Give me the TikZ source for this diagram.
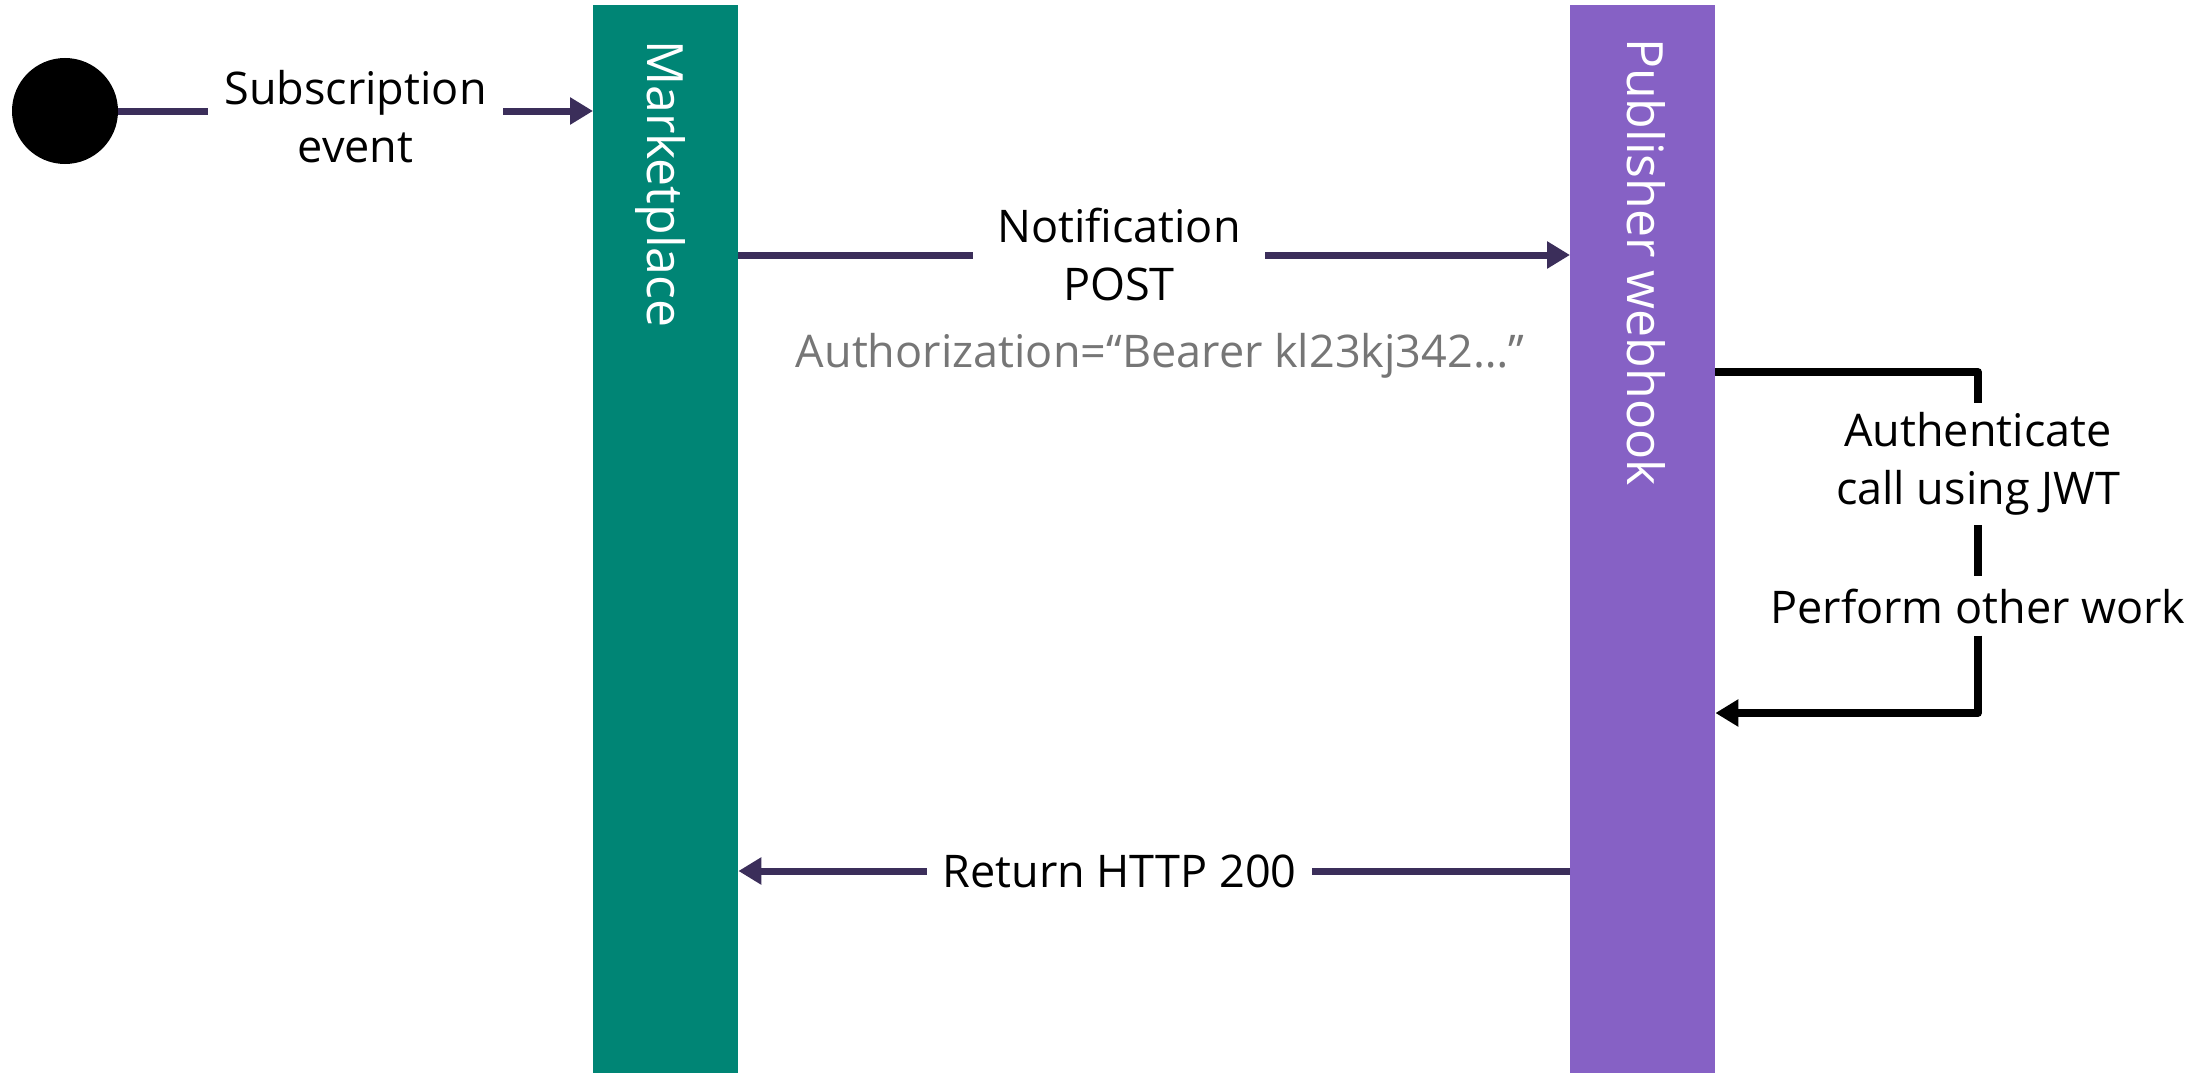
\documentclass[tikz,border=0pt]{standalone}
\usepackage{fontspec}
\setmainfont{Open Sans}
\usetikzlibrary{arrows.meta}
\definecolor{mkteal}{HTML}{008575}
\definecolor{pubpurple}{HTML}{8661C5}
\definecolor{msgline}{HTML}{3B2E5A}
\definecolor{hintgray}{HTML}{767676}

\begin{document}
\begin{tikzpicture}[x=1pt,y=-1pt,
  lane/.style={draw=none, minimum width=145pt, minimum height=1068pt,
    anchor=north west, inner sep=0pt},
  lanetitle/.style={text=white, rotate=-90, anchor=base west, inner sep=0pt,
    font=\fontsize{50}{60}\selectfont},
  msglabel/.style={font=\fontsize{45}{58}\selectfont, align=center, inner sep=0pt},
  msg/.style={draw=msgline, line width=7pt},
  msgarrow/.style={msg, -{Triangle[length=23pt,width=26pt]}},
  selfline/.style={draw=black, line width=7.5pt, line join=round},
  selfarrow/.style={selfline, -{Triangle[length=23pt,width=26pt]}},
]
% canvas
\fill[white] (0,0) rectangle (2202,1073);
\useasboundingbox (0,0) rectangle (2202,1073);

% initial state and the two lifelines
\node[circle, fill=black, minimum size=106pt, inner sep=0pt] (start) at (65,111) {};
\node[lane, fill=mkteal] (market) at (593,5) {};
\node[lane, fill=pubpurple] (pub) at (1570,5) {};
\node[lanetitle] (markettitle) at (647,40) {Marketplace};
\node[lanetitle] (pubtitle) at (1627,38) {Publisher webhook};

% subscription event
\node[msglabel, minimum width=295pt] (sub) at (355.5,116.5) {Subscription\\event};
\draw[msg] (start.east) -- (sub.west |- start.east);
\draw[msgarrow] (sub.east |- start.east) -- (market.west |- start.east);

% notification POST
\node[msglabel, minimum width=292pt] (notif) at (1119,255) {Notification\\POST};
\draw[msg] (market.east |- notif) -- (notif.west);
\draw[msgarrow] (notif.east) -- (pub.west |- notif);
\node[font=\fontsize{45}{58}\selectfont, text=hintgray, anchor=base, inner sep=0pt]
  (authz) at (1160,367) {Authorization=“Bearer kl23kj342…”};

% self call on the webhook
\node[msglabel, minimum height=122pt] (auth) at (1978,464) {Authenticate\\call using JWT};
\node[msglabel, minimum height=59pt] (perf) at (1978,606) {Perform other work};
\coordinate (looptop) at (1978,372);
\coordinate (loopbot) at (1978,713);
\draw[selfline] (pub.east |- looptop) -- (looptop) -- (auth.north);
\draw[selfline] (auth.south) -- (perf.north);
\draw[selfarrow] (perf.south) -- (loopbot) -- (pub.east |- loopbot);

% reply
\node[msglabel, minimum width=385pt] (ret) at (1119.5,871) {Return HTTP 200};
\draw[msg] (pub.west |- ret) -- (ret.east);
\draw[msgarrow] (ret.west) -- (market.east |- ret);
\end{tikzpicture}
\end{document}
